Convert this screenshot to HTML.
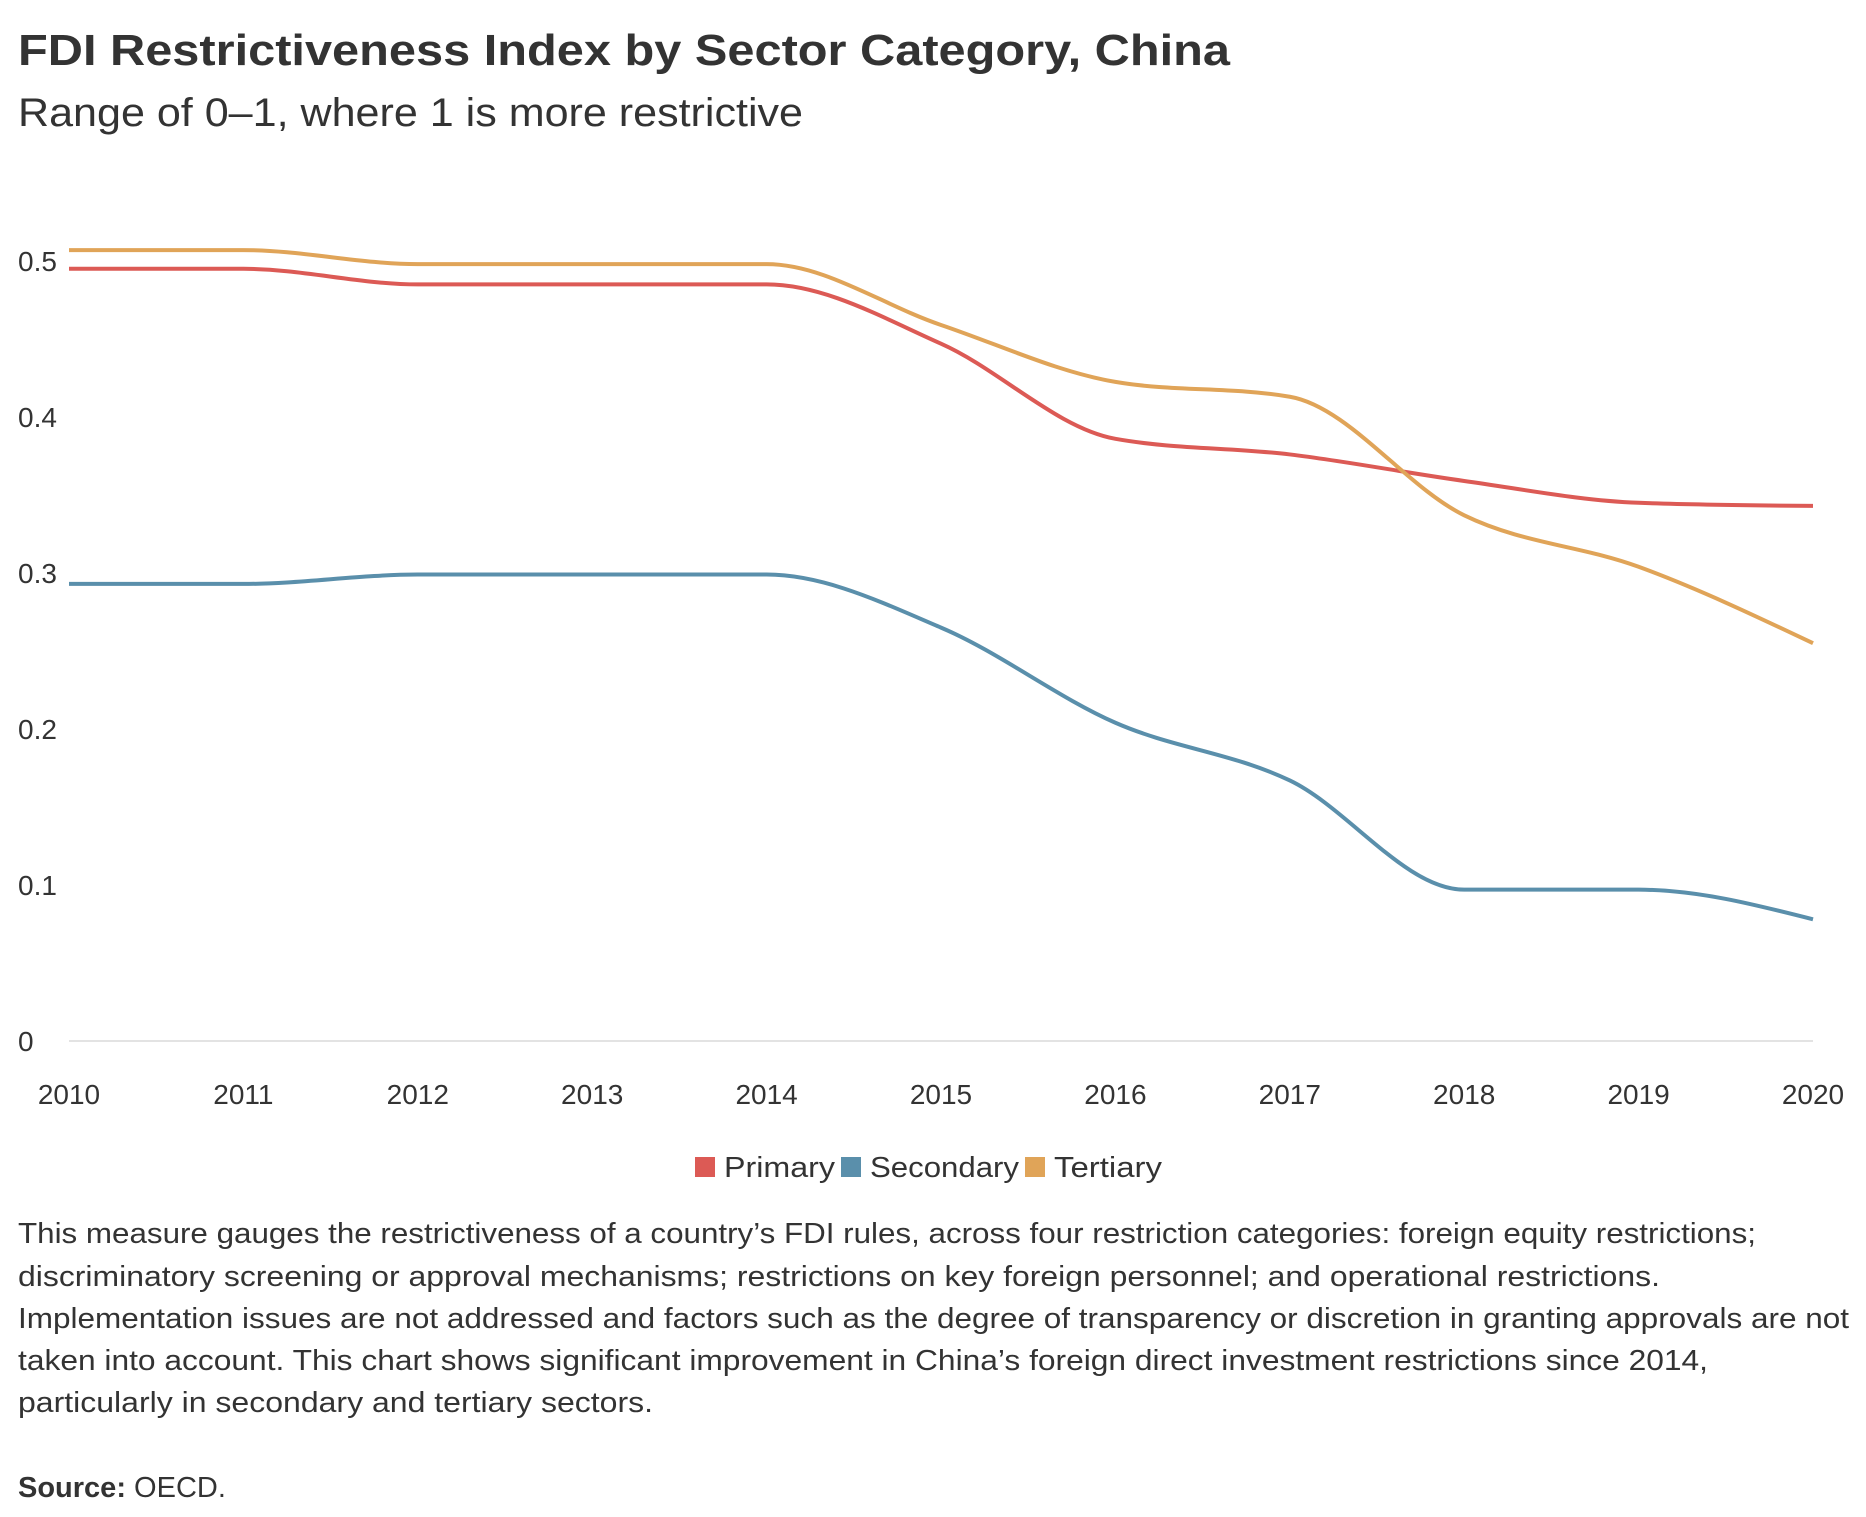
<!DOCTYPE html>
<html><head><meta charset="utf-8"><style>
html,body{margin:0;padding:0;background:#fff;}
svg{display:block;font-family:"Liberation Sans",sans-serif;}
</style></head><body>
<svg width="1866" height="1517" viewBox="0 0 1866 1517">
<text x="18" y="65" font-size="44" font-weight="bold" fill="#333" textLength="1212" lengthAdjust="spacingAndGlyphs">FDI Restrictiveness Index by Sector Category, China</text>
<text x="18" y="126" font-size="40" fill="#333" textLength="785" lengthAdjust="spacingAndGlyphs">Range of 0–1, where 1 is more restrictive</text>
<g id="yaxis"></g>
<g id="xaxis"></g>
<g id="lines"></g>
<g>
<rect x="695" y="1157" width="20" height="20" fill="#dc5a55"/>
<text x="724" y="1177" font-size="29" fill="#333" textLength="111" lengthAdjust="spacingAndGlyphs">Primary</text>
<rect x="841" y="1157" width="20" height="20" fill="#5a8fab"/>
<text x="870" y="1177" font-size="29" fill="#333" textLength="149" lengthAdjust="spacingAndGlyphs">Secondary</text>
<rect x="1025" y="1157" width="20" height="20" fill="#e0a458"/>
<text x="1054" y="1177" font-size="29" fill="#333" textLength="108" lengthAdjust="spacingAndGlyphs">Tertiary</text>
</g>
<g font-size="29" fill="#333">
<text x="18" y="1243" textLength="1738" lengthAdjust="spacingAndGlyphs">This measure gauges the restrictiveness of a country’s FDI rules, across four restriction categories: foreign equity restrictions;</text>
<text x="18" y="1286" textLength="1642" lengthAdjust="spacingAndGlyphs">discriminatory screening or approval mechanisms; restrictions on key foreign personnel; and operational restrictions.</text>
<text x="18" y="1328" textLength="1831" lengthAdjust="spacingAndGlyphs">Implementation issues are not addressed and factors such as the degree of transparency or discretion in granting approvals are not</text>
<text x="18" y="1370" textLength="1690" lengthAdjust="spacingAndGlyphs">taken into account. This chart shows significant improvement in China’s foreign direct investment restrictions since 2014,</text>
<text x="18" y="1412" textLength="635" lengthAdjust="spacingAndGlyphs">particularly in secondary and tertiary sectors.</text>
</g>
<text x="18" y="1497" font-size="29" fill="#333"><tspan font-weight="bold">Source:</tspan> OECD.</text>
</svg>
<script>
const years = [2010,2011,2012,2013,2014,2015,2016,2017,2018,2019,2020];
const primary = [0.495,0.495,0.485,0.485,0.485,0.447,0.386,0.376,0.359,0.345,0.343];
const secondary = [0.293,0.293,0.299,0.299,0.299,0.265,0.204,0.167,0.097,0.097,0.078];
const tertiary = [0.507,0.507,0.498,0.498,0.498,0.459,0.4225,0.413,0.337,0.304,0.255];
const yTicks = [0,0.1,0.2,0.3,0.4,0.5];
const yTickLabels = ["0","0.1","0.2","0.3","0.4","0.5"];

const NS="http://www.w3.org/2000/svg";
const X0=69,X1=1813,Y0=1041,Y5=261;
const xs=v=>X0+(v-years[0])/(years[years.length-1]-years[0])*(X1-X0);
const ys=v=>Y0-v/0.5*(Y0-Y5);
function el(t,a,p){const e=document.createElementNS(NS,t);for(const k in a)e.setAttribute(k,a[k]);p.appendChild(e);return e;}

const ya=document.getElementById('yaxis');
yTicks.forEach((t,i)=>{
  const tx=el('text',{x:18,y:ys(t)+10,'font-size':28,fill:'#333'},ya);
  tx.textContent=yTickLabels[i];
  
  
});
const base=el('line',{x1:X0,x2:X1,y1:ys(0),y2:ys(0),stroke:'#e3e3e3','stroke-width':2},ya);



const xa=document.getElementById('xaxis');
years.forEach(y=>{
  const tx=el('text',{x:xs(y),y:1104,'font-size':28,fill:'#333','text-anchor':'middle'},xa);
  tx.textContent=String(y);
  
  
});

function monotonePath(px,py){
  const n=px.length,d=[],m=[];
  for(let i=0;i<n-1;i++)d.push((py[i+1]-py[i])/(px[i+1]-px[i]));
  for(let i=0;i<n;i++){
    if(i===0)m.push(d[0]);else if(i===n-1)m.push(d[n-2]);
    else{ if(d[i-1]*d[i]<=0)m.push(0);
      else{const h0=px[i]-px[i-1],h1=px[i+1]-px[i];
        const p=(d[i-1]*h1+d[i]*h0)/(h0+h1);
        m.push((Math.sign(d[i-1])+Math.sign(d[i]))*Math.min(Math.abs(d[i-1]),Math.abs(d[i]),0.5*Math.abs(p)));}}
  }
  m[0]=0;m[n-1]=(n>1)?(3*d[n-2]-m[n-2])/2:0;
  if(Math.sign(m[n-1])!==Math.sign(d[n-2]))m[n-1]=0;
  let s='M'+px[0]+','+py[0];
  for(let i=0;i<n-1;i++){const h=(px[i+1]-px[i])/3;
    s+=' C'+(px[i]+h)+','+(py[i]+m[i]*h)+' '+(px[i+1]-h)+','+(py[i+1]-m[i+1]*h)+' '+px[i+1]+','+py[i+1];}
  return s;
}
const lg=document.getElementById('lines');
[[primary,'#dc5a55','line-primary'],[secondary,'#5a8fab','line-secondary'],[tertiary,'#e0a458','line-tertiary']].forEach(([vals,c,name])=>{
  const p=el('path',{d:monotonePath(years.map(xs),vals.map(ys)),fill:'none',stroke:c,'stroke-width':4,'stroke-linejoin':'round'},lg);
  
  
});
</script>
</body></html>
